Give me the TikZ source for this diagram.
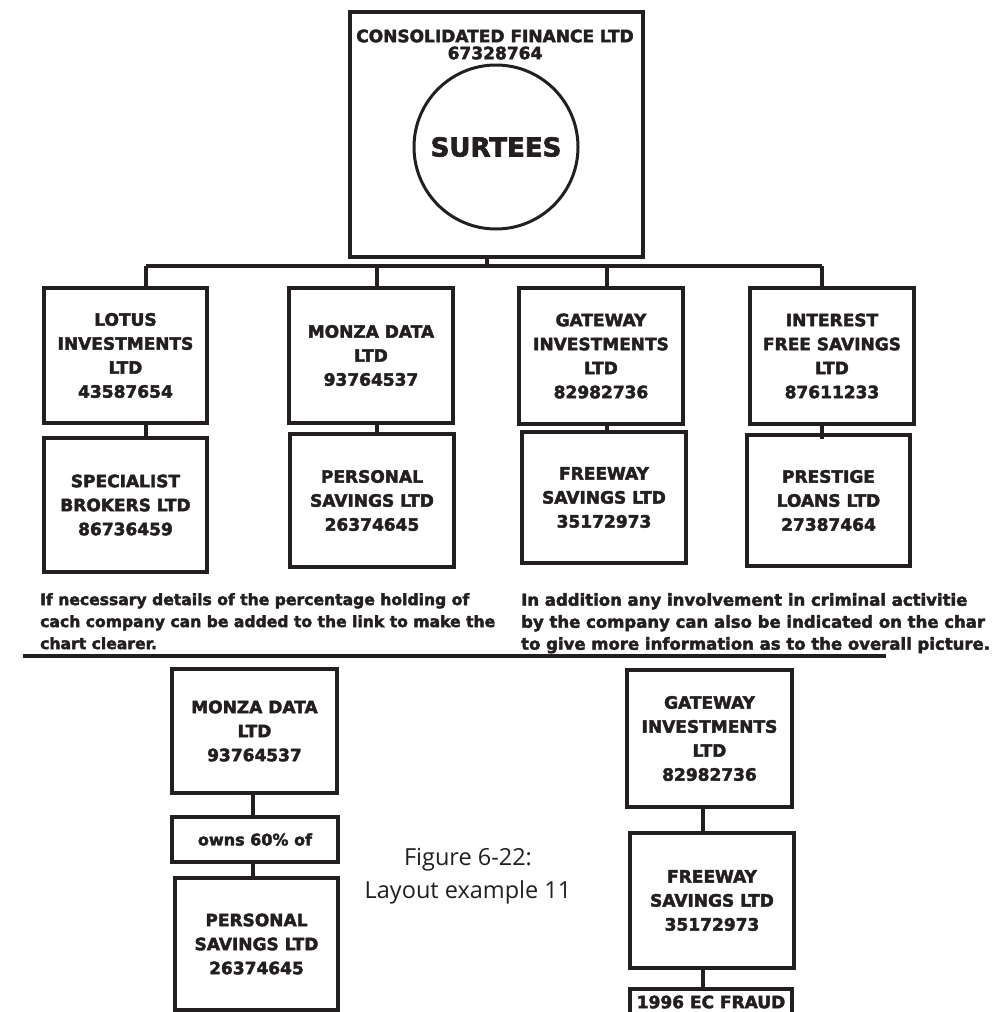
\documentclass[tikz,border=0pt]{standalone}
\usepackage{fontspec}
\setmainfont{DejaVu Sans}[BoldFeatures={FakeBold=2.5}]
\newfontfamily\capfont{Open Sans}
\definecolor{ink}{HTML}{231F20}
\newcommand{\cofont}{\fontsize{17}{24}\selectfont\bfseries}
\newcommand{\hdfont}{\fontsize{17}{17}\selectfont\bfseries}
\newcommand{\bigfont}{\fontsize{26}{28}\selectfont\bfseries}
\newcommand{\ownfont}{\fontsize{16}{18}\selectfont\bfseries}
\newcommand{\notefont}{\fontsize{15.6}{22}\selectfont\bfseries}
\newcommand{\notefontr}{\fontsize{16.5}{22}\selectfont\bfseries}
\newcommand{\figfont}{\capfont\fontsize{23.5}{33}\selectfont}
\tikzset{
  cobox/.style ={draw=ink, line width=3.6pt, fill=white, text=ink, align=center, inner sep=0pt, minimum width=163pt, minimum height=135pt, font=\cofont},
  ring/.style  ={draw=ink, line width=3pt, circle, text=ink, minimum size=164pt, inner sep=0pt, font=\bigfont},
  hdtxt/.style ={text=ink, align=center, inner sep=0pt, font=\hdfont},
  link/.style  ={draw=ink, line width=3.6pt},
  bus/.style   ={draw=ink, line width=3.2pt},
  note/.style  ={text=ink, align=left, inner sep=0pt, anchor=north west, font=\notefont},
  figcap/.style={text=ink, align=center, inner sep=0pt, font=\figfont},
}

\begin{document}
\begin{tikzpicture}[x=1pt,y=-1pt]
    \clip (0,0) rectangle (1004,1012);
    \fill[white] (0,0) rectangle (1004,1012);

    % parent company
    \node[cobox,minimum width=293pt,minimum height=245pt] (cons) at (496.5,134.5) {};
    \node[hdtxt] (constxt) at (495,44.5) {CONSOLIDATED FINANCE LTD\\67328764};
    \node[ring] (sur) at (496,147) {SURTEES};

    % first tier
    \node[cobox] (lotus) at (125.5,355.5) {LOTUS\\INVESTMENTS\\LTD\\43587654};
    \node[cobox,minimum width=164pt] (monza) at (371,355.5) {MONZA DATA\\LTD\\93764537};
    \node[cobox,minimum width=164pt,minimum height=136pt] (gate) at (601,356) {GATEWAY\\INVESTMENTS\\LTD\\82982736};
    \node[cobox,minimum width=164pt,minimum height=136pt] (intfree) at (832,356) {INTEREST\\FREE SAVINGS\\LTD\\87611233};

    % second tier
    \node[cobox,minimum height=134pt] (spec) at (125.5,505) {SPECIALIST\\BROKERS LTD\\86736459};
    \node[cobox,minimum width=164pt,minimum height=133pt] (perso) at (372,500.5) {PERSONAL\\SAVINGS LTD\\26374645};
    \node[cobox,minimum width=164pt,minimum height=131pt] (free) at (604,497.5) {FREEWAY\\SAVINGS LTD\\35172973};
    \node[cobox,minimum height=131pt] (prest) at (828.5,500.5) {PRESTIGE\\LOANS LTD\\27387464};

    \coordinate (top) at (487,0);
    \coordinate (dA) at (146,266);
    \coordinate (dB) at (377,266);
    \coordinate (dC) at (607,266);
    \coordinate (dD) at (822,266);
    \coordinate (dE) at (703,0);
    \coordinate (dF) at (253,0);

    \draw[link] (cons.south -| top) -- (top |- dA);
    \draw[bus] (dA) -- (dD);
    \draw[link] (dA) -- (dA |- lotus.north);
    \draw[link] (dB) -- (dB |- monza.north);
    \draw[link] (dC) -- (dC |- gate.north);
    \draw[link] (dD) -- (dD |- intfree.north);
    \draw[link] (lotus.south -| dA) -- (spec.north -| dA);
    \draw[link] (monza.south -| dB) -- (perso.north -| dB);
    \draw[link] (gate.south -| dC) -- (free.north -| dC);
    \draw[link] (intfree.south -| dD) -- ([yshift=-6pt]prest.north -| dD);

    % notes
    \node[note] (noteL) at (40,593) {If necessary details of the percentage holding of\\cach company can be added to the link to make the\\chart clearer.};
    \node[note,font=\notefontr] (noteR) at (521,593) {In addition any involvement in criminal activitie\\by the company can also be indicated on the char\\to give more information as to the overall picture.};
    \draw[ink,line width=3.8pt] (23,656) -- (886,656);

    % detail of the links
    \node[cobox,minimum width=165pt,minimum height=124pt] (monzab) at (254.5,731) {MONZA DATA\\LTD\\93764537};
    \node[cobox,minimum width=166pt,minimum height=45pt,font=\ownfont] (owns) at (255,839.5) {owns 60\% of};
    \node[cobox,minimum width=163pt,minimum height=132pt] (persob) at (256.5,944) {PERSONAL\\SAVINGS LTD\\26374645};
    \node[cobox,minimum width=165pt,minimum height=137pt] (gateb) at (709.5,738.5) {GATEWAY\\INVESTMENTS\\LTD\\82982736};
    \node[cobox,minimum width=164pt,minimum height=135pt] (freeb) at (712,900.5) {FREEWAY\\SAVINGS LTD\\35172973};
    \node[cobox,minimum width=162pt,minimum height=26pt] (fraud) at (711,1002) {1996 EC FRAUD};

    \draw[link] (monzab.south -| dF) -- (owns.north -| dF);
    \draw[link] (owns.south -| dF) -- (persob.north -| dF);
    \draw[link] (gateb.south -| dE) -- (freeb.north -| dE);
    \draw[link] (freeb.south -| dE) -- (fraud.north -| dE);

    \node[figcap] (fig) at (468,876) {Figure 6-22:\\Layout example 11};
  \end{tikzpicture}
\end{document}
